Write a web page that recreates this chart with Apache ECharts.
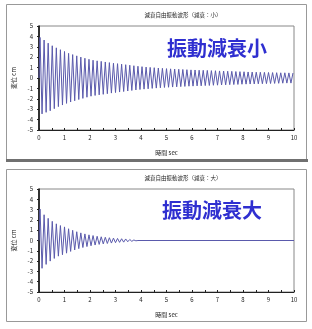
<!DOCTYPE html>
<html><head><meta charset="utf-8">
<script src="https://cdn.jsdelivr.net/npm/echarts@6/dist/echarts.min.js"></script>
<style>html,body{margin:0;padding:0;background:#fff}#c{width:312px;height:329px}</style>
</head><body><div id="c"></div>
<script>
// Titles and labels
var titleSmall = '減衰自由振動波形（減衰：小）';
var titleLarge = '減衰自由振動波形（減衰：大）';
var overlaySmall = '振動減衰小';
var overlayLarge = '振動減衰大';
var xName = '時間 sec';
var yName = '変位 cm';
var xTicks = [0, 1, 2, 3, 4, 5, 6, 7, 8, 9, 10];
var yTicks = [-5, -4, -3, -2, -1, 0, 1, 2, 3, 4, 5];

// Times of the turning points (sec)
var timesSmall = [0, 0.04, 0.12, 0.20, 0.28, 0.36, 0.44, 0.52, 0.60, 0.68, 0.76, 0.84, 0.92,
  1.00, 1.08, 1.16, 1.24, 1.32, 1.40, 1.48, 1.56, 1.64, 1.72, 1.80, 1.88, 1.96,
  2.04, 2.12, 2.20, 2.28, 2.36, 2.44, 2.52, 2.60, 2.68, 2.76, 2.84, 2.92,
  3.00, 3.08, 3.16, 3.24, 3.32, 3.40, 3.48, 3.56, 3.64, 3.72, 3.80, 3.88, 3.96,
  4.04, 4.12, 4.20, 4.28, 4.36, 4.44, 4.52, 4.60, 4.68, 4.76, 4.84, 4.92,
  5.00, 5.08, 5.16, 5.24, 5.32, 5.40, 5.48, 5.56, 5.64, 5.72, 5.80, 5.88, 5.96,
  6.04, 6.12, 6.20, 6.28, 6.36, 6.44, 6.52, 6.60, 6.68, 6.76, 6.84, 6.92,
  7.00, 7.08, 7.16, 7.24, 7.32, 7.40, 7.48, 7.56, 7.64, 7.72, 7.80, 7.88, 7.96,
  8.04, 8.12, 8.20, 8.28, 8.36, 8.44, 8.52, 8.60, 8.68, 8.76, 8.84, 8.92,
  9.00, 9.08, 9.16, 9.24, 9.32, 9.40, 9.48, 9.56, 9.64, 9.72, 9.80, 9.88, 9.96];
var dispSmall = [0, 3.90, -3.45, 3.65, -3.30, 3.35, -3.15, 3.10, -2.95, 2.90, -2.75, 2.72, -2.60,
  2.55, -2.44, 2.37, -2.31, 2.25, -2.19, 2.13, -2.07, 2.01, -1.96, 1.90, -1.85, 1.80,
  -1.75, 1.71, -1.68, 1.65, -1.62, 1.60, -1.57, 1.54, -1.51, 1.48, -1.45, 1.42,
  -1.40, 1.38, -1.35, 1.33, -1.30, 1.28, -1.25, 1.23, -1.20, 1.18, -1.15, 1.13, -1.11,
  1.09, -1.07, 1.05, -1.04, 1.02, -1.00, 0.99, -0.97, 0.96, -0.94, 0.93, -0.91,
  0.90, -0.89, 0.88, -0.87, 0.86, -0.85, 0.84, -0.83, 0.82, -0.81, 0.80, -0.79, 0.78,
  -0.78, 0.77, -0.76, 0.75, -0.75, 0.74, -0.73, 0.73, -0.72, 0.71, -0.70, 0.70,
  -0.69, 0.68, -0.67, 0.67, -0.66, 0.65, -0.64, 0.64, -0.63, 0.62, -0.62, 0.61, -0.60,
  0.60, -0.59, 0.58, -0.58, 0.57, -0.57, 0.56, -0.56, 0.55, -0.55, 0.54, -0.54,
  0.53, -0.53, 0.52, -0.52, 0.51, -0.51, 0.50, -0.50, 0.50, -0.49, 0.49, -0.49, 0.48];

var timesLarge = [0, 0.04, 0.12, 0.20, 0.28, 0.36, 0.44, 0.52, 0.60, 0.68, 0.76, 0.84, 0.92,
  1.00, 1.08, 1.16, 1.24, 1.32, 1.40, 1.48, 1.56, 1.64, 1.72, 1.80, 1.88, 1.96,
  2.04, 2.12, 2.20, 2.28, 2.36, 2.44, 2.52, 2.60, 2.68, 2.76, 2.84, 2.92,
  3.00, 3.08, 3.16, 3.24, 3.32, 3.40, 3.48, 3.56, 3.64, 3.72, 3.80, 3.88, 10];
var dispLarge = [0, 3.05, -2.70, 2.50, -2.32, 2.15, -2.00, 1.86, -1.74, 1.62, -1.52, 1.45, -1.38,
  1.32, -1.23, 1.14, -1.06, 0.99, -0.92, 0.85, -0.79, 0.74, -0.68, 0.64, -0.59, 0.55,
  -0.51, 0.48, -0.44, 0.41, -0.38, 0.36, -0.33, 0.31, -0.29, 0.27, -0.25, 0.23,
  -0.21, 0.20, -0.18, 0.17, -0.16, 0.15, -0.12, 0.10, -0.08, 0.05, -0.03, 0, 0];

function pairs(t, v) { var out = []; for (var i = 0; i < t.length; i++) out.push([t[i], v[i]]); return out; }

var font = '"Noto Sans CJK JP", "Noto Sans", sans-serif';
var lineColor = '#5a5aac';

function xAxis(gi) {
  return {
    gridIndex: gi, type: 'value', min: 0, max: 10, interval: 1,
    name: xName, nameLocation: 'middle', nameGap: 20,
    nameTextStyle: { fontSize: 6, color: '#222', fontFamily: font },
    axisLine: { show: true, onZero: false, lineStyle: { color: '#222', width: 1 } },
    axisTick: { show: true, inside: true, length: 2, lineStyle: { color: '#222' } },
    minorTick: { show: true, splitNumber: 2, length: 2, lineStyle: { color: '#222' } },
    axisLabel: { fontSize: 6, color: '#222', margin: 5, fontFamily: font,
      formatter: function (v) { return xTicks.indexOf(v) >= 0 ? String(v) : ''; } },
    splitLine: { show: false }
  };
}
function yAxis(gi) {
  return {
    gridIndex: gi, type: 'value', min: -5, max: 5, interval: 1,
    name: yName, nameLocation: 'middle', nameGap: 21, nameRotate: 90,
    nameTextStyle: { fontSize: 6, color: '#222', fontFamily: font },
    axisLine: { show: true, onZero: false, lineStyle: { color: '#000', width: 1.5 } },
    axisTick: { show: true, inside: false, length: 2, lineStyle: { color: '#222' } },
    axisLabel: { fontSize: 6, color: '#222', margin: 6, fontFamily: font,
      formatter: function (v) { return yTicks.indexOf(v) >= 0 ? String(v) : ''; } },
    splitLine: { show: false }
  };
}

var chart = echarts.init(document.getElementById('c'), null, { renderer: 'canvas' });
chart.setOption({
  animation: false,
  backgroundColor: '#fff',
  grid: [
    { left: 39, top: 26, width: 255, height: 104, show: true, borderColor: '#888', borderWidth: 1, backgroundColor: 'transparent' },
    { left: 39, top: 189, width: 255, height: 103, show: true, borderColor: '#888', borderWidth: 1, backgroundColor: 'transparent' }
  ],
  xAxis: [xAxis(0), xAxis(1)],
  yAxis: [yAxis(0), yAxis(1)],
  series: [
    { type: 'line', xAxisIndex: 0, yAxisIndex: 0, data: pairs(timesSmall, dispSmall), showSymbol: false,
      lineStyle: { color: lineColor, width: 1 }, clip: true },
    { type: 'line', xAxisIndex: 1, yAxisIndex: 1, data: pairs(timesLarge, dispLarge), showSymbol: false,
      lineStyle: { color: lineColor, width: 1 }, clip: true }
  ],
  graphic: [
    { type: 'rect', shape: { x: 6.5, y: 4.5, width: 300, height: 155 }, style: { fill: 'none', stroke: '#999', lineWidth: 1 }, z: -1 },
    { type: 'rect', shape: { x: 6, y: 159, width: 302, height: 3 }, style: { fill: '#707070' }, z: -1 },
    { type: 'rect', shape: { x: 6.5, y: 169.5, width: 300, height: 152 }, style: { fill: 'none', stroke: '#999', lineWidth: 1 }, z: -1 },
    { type: 'text', x: 183, y: 15, style: { text: titleSmall, fontSize: 5.5, fill: '#222', fontFamily: font, textAlign: 'center', textVerticalAlign: 'middle' } },
    { type: 'text', x: 183, y: 178, style: { text: titleLarge, fontSize: 5.5, fill: '#222', fontFamily: font, textAlign: 'center', textVerticalAlign: 'middle' } },
    { type: 'text', x: 167, y: 48, z: 10, style: { text: overlaySmall, fontSize: 20, fontWeight: 'bold', fill: '#2f2fd0', fontFamily: font, textAlign: 'left', textVerticalAlign: 'middle', shadowColor: 'rgba(110,110,255,0.9)', shadowBlur: 3 } },
    { type: 'text', x: 162, y: 210, z: 10, style: { text: overlayLarge, fontSize: 20, fontWeight: 'bold', fill: '#2f2fd0', fontFamily: font, textAlign: 'left', textVerticalAlign: 'middle', shadowColor: 'rgba(110,110,255,0.9)', shadowBlur: 3 } }
  ]
});
</script></body></html>
